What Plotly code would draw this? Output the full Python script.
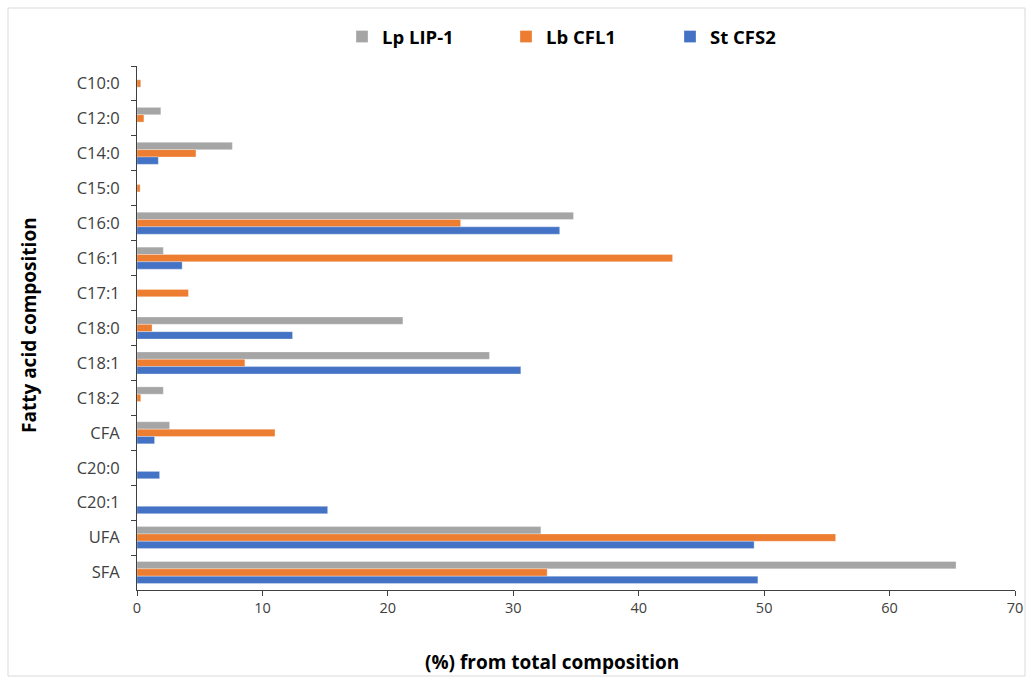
import plotly.graph_objects as go

# Fatty acid profile (% of total composition) for three strains
categories = ["C10:0", "C12:0", "C14:0", "C15:0", "C16:0", "C16:1", "C17:1",
              "C18:0", "C18:1", "C18:2", "CFA", "C20:0", "C20:1", "UFA", "SFA"]

lp_lip1 = [0, 1.9, 7.6, 0, 34.8, 2.1, 0, 21.2, 28.1, 2.1, 2.6, 0, 0, 32.2, 65.3]
lb_cfl1 = [0.3, 0.55, 4.7, 0.25, 25.8, 42.7, 4.1, 1.2, 8.6, 0.3, 11.0, 0, 0, 55.7, 32.7]
st_cfs2 = [0, 0, 1.7, 0, 33.7, 3.6, 0, 12.4, 30.6, 0, 1.4, 1.8, 15.2, 49.2, 49.5]

series_names = ["Lp LIP-1", "Lb CFL1", "St CFS2"]
series_colors = ["#A5A5A5", "#ED7D31", "#4472C4"]
x_ticks = [0, 10, 20, 30, 40, 50, 60, 70]

FONT = "Open Sans, Noto Sans, sans-serif"

fig = go.Figure()
for name, vals, col in zip(series_names, [lp_lip1, lb_cfl1, st_cfs2], series_colors):
    fig.add_trace(go.Bar(
        y=categories, x=vals, name=name, orientation="h",
        marker=dict(color=col, line=dict(color="rgba(255,255,255,0.6)", width=0.5)),
    ))

W, H = 1033, 681
ml, mr, mt, mb = 137, 18, 66, 91
ph = H - mt - mb
pw = W - ml - mr


def py(pix):
    return (H - mb - pix) / ph


def px(pix):
    return (pix - ml) / pw


fig.update_layout(
    width=W, height=H,
    margin=dict(l=ml, r=mr, t=mt, b=mb, autoexpand=False),
    paper_bgcolor="white", plot_bgcolor="white",
    barmode="group", bargap=0.37, bargroupgap=0,
    font=dict(family=FONT, color="#404040"),
    showlegend=True,
    legend=dict(
        orientation="h", x=px(342), xanchor="left",
        y=py(37), yanchor="middle",
        font=dict(family=FONT, size=18.5, color="#000000", weight="bold"),
        entrywidth=119, entrywidthmode="pixels",
        traceorder="normal", itemclick=False, itemdoubleclick=False,
    ),
    xaxis=dict(
        range=[0, 70], tickvals=x_ticks, ticks="outside", ticklen=5,
        tickcolor="#404040", showline=True, linecolor="#404040", linewidth=1,
        showgrid=False, zeroline=False,
        tickfont=dict(family=FONT, size=14.5, color="#404040"),
    ),
    yaxis=dict(
        categoryorder="array", categoryarray=categories, autorange="reversed",
        ticks="outside", ticklen=5, tickson="boundaries",
        tickcolor="#404040", showline=True, linecolor="#404040", linewidth=1,
        showgrid=False, zeroline=False, ticklabelstandoff=13,
        tickfont=dict(family=FONT, size=16.5, color="#404040"),
    ),
    annotations=[
        dict(text="<b>(%) from total composition</b>", xref="paper", yref="paper",
             x=px(552), y=py(662), showarrow=False, xanchor="center", yanchor="middle",
             font=dict(family=FONT, size=19, color="#000000")),
        dict(text="<b>Fatty acid composition</b>", xref="paper", yref="paper",
             x=px(29), y=py(325), showarrow=False, textangle=-90,
             xanchor="center", yanchor="middle",
             font=dict(family=FONT, size=19, color="#000000")),
    ],
    shapes=[
        dict(type="rect", xref="paper", yref="paper",
             x0=px(8), x1=px(1025), y0=py(676), y1=py(8),
             line=dict(color="#D9D9D9", width=1), fillcolor="rgba(0,0,0,0)"),
    ],
)

fig.write_html("out.html")
